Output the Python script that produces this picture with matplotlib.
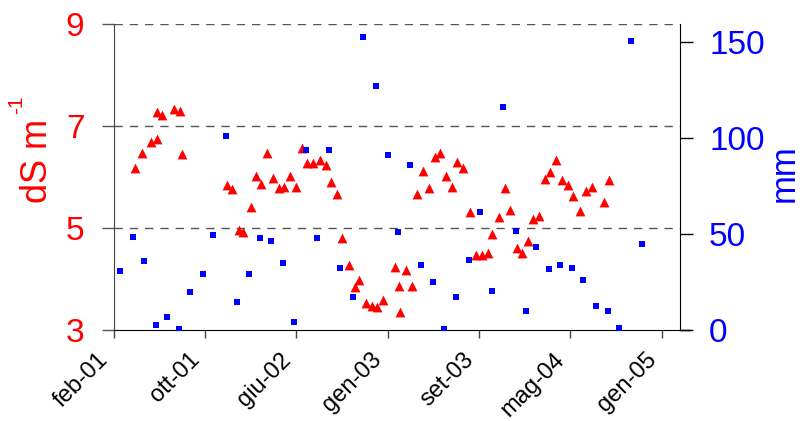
import datetime as dt
import matplotlib
matplotlib.use("Agg")
import matplotlib.pyplot as plt
import matplotlib.dates as mdates
from matplotlib.ticker import FixedLocator
from matplotlib.transforms import ScaledTranslation

plt.rcParams['font.family'] = ['Liberation Sans', 'DejaVu Sans']

# ---- data ----
start_date = dt.date(2001, 2, 7)
tick_days = [0, 240, 480, 720, 960, 1200, 1440]
tick_labels = ['feb-01', 'ott-01', 'giu-02', 'gen-03', 'set-03', 'mag-04', 'gen-05']

# electrical conductivity (dS m-1), day offsets from start_date
ec_days = [56, 74, 98, 114, 113, 126, 158, 175, 179, 297, 312, 329, 341, 361, 374,
           386, 402, 418, 435, 447, 463, 479, 495, 508, 524, 541, 557, 572, 586, 601,
           618, 634, 646, 663, 678, 691, 707, 739, 751, 752, 768, 784, 796, 812, 829,
           845, 858, 873, 890, 902, 919, 935, 951, 968, 984, 995, 1012, 1028, 1041,
           1060, 1072, 1089, 1101, 1118, 1133, 1146, 1162, 1179, 1195, 1208, 1224,
           1240, 1257, 1288, 1301]
ec_vals = [6.17, 6.48, 6.69, 6.75, 7.27, 7.21, 7.33, 7.30, 6.45, 5.84, 5.76, 4.96, 4.93, 5.42, 6.03,
           5.87, 6.48, 5.99, 5.78, 5.81, 6.03, 5.81, 6.57, 6.27, 6.27, 6.33, 6.24, 5.90, 5.66, 4.80,
           4.27, 3.84, 3.99, 3.54, 3.48, 3.45, 3.59, 4.23, 3.87, 3.35, 4.17, 3.87, 5.66, 6.12, 5.78,
           6.39, 6.48, 6.03, 5.81, 6.30, 6.18, 5.32, 4.48, 4.48, 4.51, 4.88, 5.21, 5.78, 5.36,
           4.60, 4.51, 4.75, 5.18, 5.24, 5.97, 6.09, 6.33, 5.94, 5.84, 5.63, 5.33,
           5.73, 5.81, 5.51, 5.94]

# rainfall (mm), day offsets from start_date
rain_days = [17, 51, 79, 111, 140, 173, 201, 234, 262, 295, 323, 355, 384, 413, 445,
             473, 506, 534, 566, 595, 628, 655, 689, 721, 746, 778, 807, 839, 868, 900,
             933, 962, 993, 1022, 1056, 1083, 1109, 1144, 1173, 1205, 1234, 1267, 1299,
             1328, 1359, 1388]
rain_vals = [30.9, 48.6, 35.8, 2.6, 6.6, 0.4, 19.7, 29.2, 49.5, 101.1, 14.8, 29.2, 48.0, 46.2, 34.9,
             4.3, 93.8, 48.0, 93.8, 32.5, 17.2, 152.8, 127.1, 91.4, 51.1, 85.9, 34.1, 25.2, 0.4, 17.0,
             36.5, 61.5, 20.3, 116.4, 51.8, 9.9, 43.1, 31.6, 34.1, 32.5, 26.1, 12.3, 9.9,
             1.0, 150.5, 44.7]

def to_dates(days):
    return [start_date + dt.timedelta(days=d) for d in days]

fig = plt.figure(figsize=(8, 4.21), dpi=100)
ax = fig.add_axes([0.142, 0.216, 0.708, 0.727])
ax2 = ax.twinx()

ax.scatter(to_dates(ec_days), ec_vals, marker='^', s=50, color='#ff0000', linewidths=0, zorder=3)
ax2.scatter(to_dates(rain_days), rain_vals, marker='s', s=24, color='#0000ff', linewidths=0, zorder=3)

x0 = mdates.date2num(start_date)
ax.set_xlim(x0, x0 + 1488)
ax.set_ylim(3, 9)
ax2.set_ylim(0, 159.5)

ax.xaxis.set_major_locator(FixedLocator([x0 + d for d in tick_days]))
ax.set_xticklabels(tick_labels, rotation=45, ha='right', va='center', rotation_mode='anchor', fontsize=17)
ax.tick_params(axis='x', length=6, width=1, pad=13, colors='#444444', labelcolor='black')

ax.set_yticks([3, 5, 7, 9])
ax.tick_params(axis='y', length=9, width=1, pad=12, labelsize=24, labelcolor='#ff0000', color='#555555')
ax2.set_yticks([0, 50, 100, 150])
ax2.tick_params(axis='y', length=9, width=1, pad=12, labelsize=24, labelcolor='#0000ff', color='black')

for y in [5, 7, 9]:
    ax.axhline(y, color='#555555', linestyle=(0, (6, 5)), linewidth=1, zorder=1)

for a in (ax, ax2):
    a.spines['top'].set_visible(False)
    a.patch.set_visible(False)
ax.spines['left'].set_color('#444444')
ax2.spines['left'].set_visible(False)
ax.spines['right'].set_visible(False)
ax2.spines['right'].set_color('black')
ax2.spines['bottom'].set_visible(False)
ax.spines['bottom'].set_color('black')
ax.plot([1, 1.018], [0, 0], transform=ax.transAxes, color='black', linewidth=1, clip_on=False)

# shift rotated date labels a little to the left
shift = ScaledTranslation(-9 / 100, 0, fig.dpi_scale_trans)
for lab in ax.get_xticklabels():
    lab.set_transform(lab.get_transform() + shift)

# axis titles
fig.text(47 / 800, 1 - 203 / 421, 'dS m', rotation=90, color='#ff0000', fontsize=26,
         ha='left', va='baseline', rotation_mode='anchor')
fig.text(22 / 800, 1 - 114 / 421, '-1', rotation=90, color='#ff0000', fontsize=15,
         ha='left', va='baseline', rotation_mode='anchor')
fig.text(794 / 800, 1 - 173.5 / 421, 'mm', rotation=90, color='#0000ff', fontsize=25,
         ha='center', va='baseline', rotation_mode='anchor')

fig.savefig('out.png', dpi=100)
